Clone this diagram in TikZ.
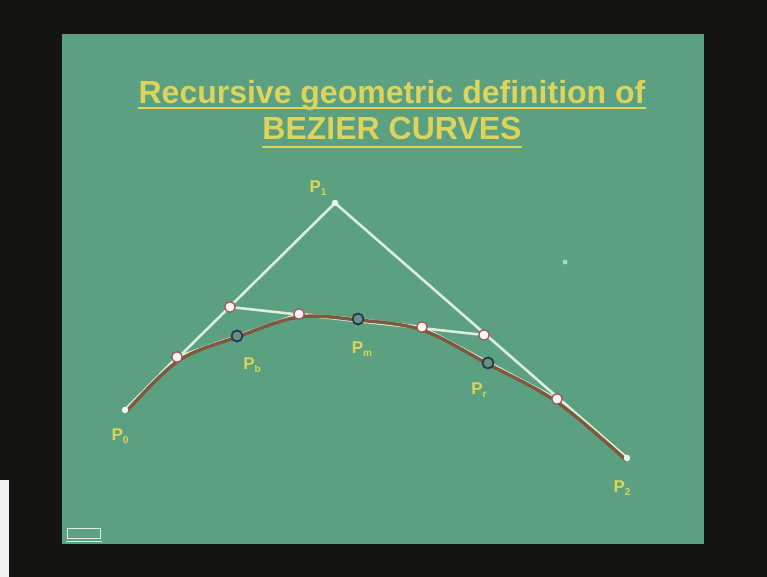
\documentclass[tikz,border=0pt]{standalone}
\usepackage{fontspec}
\setmainfont{Liberation Sans}
\definecolor{slide}{RGB}{91,160,128}
\definecolor{frame}{RGB}{20,20,17}
\definecolor{ttl}{RGB}{222,212,92}
\definecolor{lbl}{RGB}{220,214,85}
\definecolor{crv}{RGB}{128,88,62}
\definecolor{poly}{RGB}{220,238,222}
\definecolor{ring}{RGB}{40,55,80}
\definecolor{wedge}{RGB}{160,85,85}
\tikzset{
  polyline/.style={draw=poly, line width=2.6pt},
  curveline/.style={draw=crv, line width=3.4pt, line cap=round},
  whitept/.style={circle, draw=wedge, fill=white!88!pink, line width=1.3pt, minimum size=10.5pt, inner sep=0pt},
  curvept/.style={circle, draw=ring, fill=slide!65!gray, line width=1.8pt, minimum size=11pt, inner sep=0pt},
  endpt/.style={circle, fill=white!92!green, minimum size=6.5pt, inner sep=0pt},
  plabel/.style={text=lbl, font=\fontsize{17}{17}\bfseries\selectfont, inner sep=0pt},
  titletext/.style={text=ttl, font=\fontsize{32}{32}\bfseries\selectfont, inner sep=0pt, anchor=base},
  uline/.style={draw=ttl, line width=1.2pt}
}
\newcommand{\lab}[1]{P\raisebox{-0.35ex}{\fontsize{10}{10}\bfseries\selectfont #1}}
\begin{document}
\begin{tikzpicture}[x=1pt,y=-1pt]
\useasboundingbox (0,0) rectangle (767,577);
\fill[frame] (0,0) rectangle (767,577);
\fill[white!90!gray] (0,480) rectangle (9,577);
\fill[slide] (62,34) rectangle (704,544);
% title
\node[titletext] (t1) at (392,104) {Recursive geometric definition of};
\node[titletext] (t2) at (392,140) {BEZIER CURVES};
\draw[uline] ([yshift=-4pt]t1.base west) -- ([yshift=-4pt]t1.base east);
\draw[uline] ([yshift=-7pt]t2.base west) -- ([yshift=-7pt]t2.base east);
% points
\coordinate (P0) at (125,410);
\coordinate (P1) at (335,203);
\coordinate (P2) at (627,458);
\coordinate (A) at (230,307);
\coordinate (B) at (484,335);
\coordinate (Q1) at (177,357);
\coordinate (Q2) at (299,314);
\coordinate (Q3) at (422,327);
\coordinate (Q4) at (557,399);
\coordinate (Pb) at (237,336);
\coordinate (Pm) at (358,319);
\coordinate (Pr) at (488,363);
% control polygons
\draw[polyline] (P0) -- (P1) -- (P2);
\draw[polyline] (A) -- (B);
\draw[polyline] (P0) -- (Q1) -- (Q2) -- (Pm) -- (Q3) -- (Q4) -- (P2);
% curve
\draw[curveline] plot[smooth, tension=0.55] coordinates {(126,412) (178,361) (237,337) (299,317) (358,320) (422,330) (488,364) (557,402) (626,460)};
% point markers
\node[endpt] (n0) at (P0) {};
\node[endpt] (n1) at (P1) {};
\node[endpt] (n2) at (P2) {};
\node[whitept] (nA) at (A) {};
\node[whitept] (nB) at (B) {};
\node[whitept] (nQ1) at (Q1) {};
\node[whitept] (nQ2) at (Q2) {};
\node[whitept] (nQ3) at (Q3) {};
\node[whitept] (nQ4) at (Q4) {};
\node[curvept] (nPb) at (Pb) {};
\node[curvept] (nPm) at (Pm) {};
\node[curvept] (nPr) at (Pr) {};
% labels
\node[plabel] (l1) at (318,188) {\lab{1}};
\node[plabel] (l0) at (120,436) {\lab{0}};
\node[plabel] (l2) at (622,488) {\lab{2}};
\node[plabel] (lb) at (252,365) {\lab{b}};
\node[plabel] (lm) at (362,349) {\lab{m}};
\node[plabel] (lr) at (479,390) {\lab{r}};
% cursor spot
\fill[white, opacity=0.55] (565,262) circle (2.5pt);
% logo at bottom left
\draw[white!80!slide, line width=0.8pt] (67,528) rectangle (100,538);
\draw[white!80!slide, line width=1pt] (66,541) -- (102,541);
\end{tikzpicture}
\end{document}
